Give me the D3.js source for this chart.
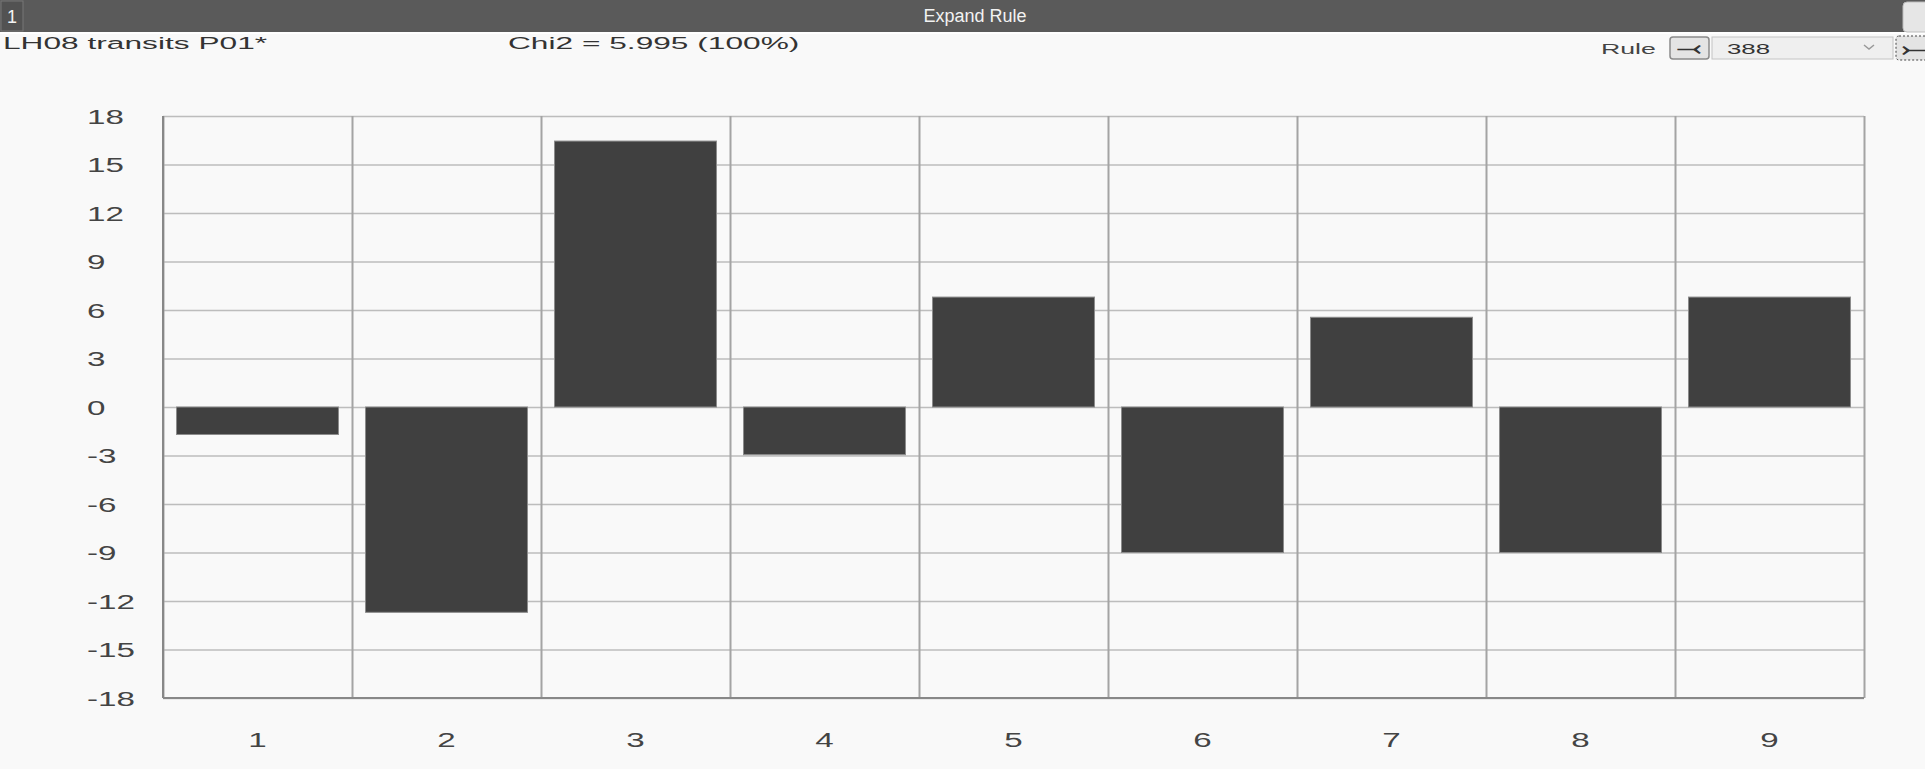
<!DOCTYPE html>
<html>
<head>
<meta charset="utf-8">
<script src="https://cdn.jsdelivr.net/npm/d3@7"></script>
<style>
  html, body { margin: 0; padding: 0; background: #f9f9f9; overflow: hidden; }
  svg { display: block; }
</style>
</head>
<body>
<svg id="chart"></svg>
<script>
// data
const categories = ["1", "2", "3", "4", "5", "6", "7", "8", "9"];
const values = [-1.7, -12.7, 16.45, -2.95, 6.8, -9.0, 5.55, -9.0, 6.8];
const yTicks = [-18, -15, -12, -9, -6, -3, 0, 3, 6, 9, 12, 15, 18];

const titleText = "LH08 transits P01*";
const chiText = "Chi2 = 5.995 (100%)";
const ruleNumber = "388";

const W = 1925, H = 769;
const plot = { left: 163, right: 1864, top: 116, bottom: 698 };
const stretch = 1.97;   // the chart text is drawn horizontally stretched
const tickStretch = 1.7;

const svg = d3.select("#chart").attr("width", W).attr("height", H);

svg.append("rect").attr("width", W).attr("height", H).attr("fill", "#f9f9f9");

// ---------------- header bar ----------------
svg.append("rect").attr("x", 0).attr("y", 0).attr("width", W).attr("height", 32)
    .attr("fill", "#5a5a5a");
svg.append("rect").attr("x", 0).attr("y", 32).attr("width", W).attr("height", 2)
    .attr("fill", "#ffffff");
svg.append("rect").attr("x", 1).attr("y", 1).attr("width", 22).attr("height", 30)
    .attr("fill", "#525252").attr("stroke", "#777");
svg.append("text").attr("x", 12).attr("y", 23).attr("text-anchor", "middle")
    .attr("font-family", "Liberation Sans, Arial, sans-serif").attr("font-size", 18)
    .attr("fill", "#f2f2f2").text("1");
svg.append("text").attr("x", 975).attr("y", 22).attr("text-anchor", "middle")
    .attr("font-family", "Liberation Sans, Arial, sans-serif").attr("font-size", 18)
    .attr("fill", "#f2f2f2").text("Expand Rule");
svg.append("rect").attr("x", 1903).attr("y", 2).attr("width", 30).attr("height", 30).attr("rx", 4)
    .attr("fill", "#e6e6e6").attr("stroke", "#bdbdbd");

// ---------------- title line ----------------
function stretchedText(x, y, txt, size, sx, color) {
    return svg.append("text")
        .attr("transform", `translate(${x},${y}) scale(${sx},1)`)
        .attr("font-family", "Liberation Sans, Arial, sans-serif")
        .attr("font-size", size)
        .attr("fill", color)
        .text(txt);
}
stretchedText(3, 49, titleText, 16.5, 1.92, "#333");
stretchedText(508, 49, chiText, 16.5, 1.92, "#333");

// rule selector
stretchedText(1601, 54, "Rule", 15, 1.78, "#444");
svg.append("rect").attr("x", 1670).attr("y", 37).attr("width", 39).attr("height", 22).attr("rx", 3)
    .attr("fill", "#e4e4e4").attr("stroke", "#8a8a8a").attr("stroke-width", 1.5);
svg.append("text").attr("transform", "translate(1689,55) scale(1.5,1)").attr("text-anchor", "middle")
    .attr("font-family", "DejaVu Sans, sans-serif").attr("font-size", 20).attr("font-weight", "bold")
    .attr("fill", "#333").text("⤙");
svg.append("rect").attr("x", 1712).attr("y", 37).attr("width", 181).attr("height", 22)
    .attr("fill", "#efefef").attr("stroke", "#c4c4c4");
stretchedText(1727, 54, ruleNumber, 15, 1.72, "#333");
svg.append("path").attr("d", "M1864,45 L1869,49 L1874,45").attr("fill", "none")
    .attr("stroke", "#999").attr("stroke-width", 1.5);
svg.append("rect").attr("x", 1896).attr("y", 36).attr("width", 40).attr("height", 24).attr("rx", 3)
    .attr("fill", "#e4e4e4").attr("stroke", "#444").attr("stroke-dasharray", "2,2");
svg.append("text").attr("transform", "translate(1914,55) scale(1.5,1)").attr("text-anchor", "middle")
    .attr("font-family", "DejaVu Sans, sans-serif").attr("font-size", 20).attr("font-weight", "bold")
    .attr("fill", "#333").text("⤚");

// ---------------- scales ----------------
const x = d3.scaleBand().domain(categories).range([plot.left, plot.right]);
const xBar = d3.scaleBand().domain(categories).range([plot.left, plot.right])
    .paddingInner(0.143).paddingOuter(0.0715);
const y = d3.scaleLinear().domain([-18, 18]).range([plot.bottom, plot.top]);

// horizontal grid + y labels
const yAxis = svg.append("g")
    .attr("transform", `translate(${plot.left},0)`)
    .call(d3.axisLeft(y).tickValues(yTicks).tickFormat(d => String(d))
        .tickSize(-(plot.right - plot.left)).tickPadding(0));
yAxis.select(".domain").remove();
yAxis.selectAll(".tick line").attr("stroke", "#bdbdbd").attr("stroke-width", 1.5);
yAxis.selectAll(".tick text")
    .attr("text-anchor", "start")
    .attr("x", -76 / tickStretch)
    .attr("dy", "0.36em")
    .attr("transform", `scale(${tickStretch},1)`)
    .attr("font-family", "Liberation Sans, Arial, sans-serif")
    .attr("font-size", 19.5)
    .attr("fill", "#444");

// vertical separators between categories
const xSep = d3.scaleLinear().domain([0, categories.length]).range([plot.left, plot.right]);
const sepAxis = svg.append("g")
    .attr("transform", `translate(0,${plot.bottom})`)
    .call(d3.axisBottom(xSep).tickValues(d3.range(0, categories.length + 1))
        .tickSize(-(plot.bottom - plot.top)).tickFormat(""));
sepAxis.select(".domain").remove();
sepAxis.selectAll(".tick line").attr("stroke", "#a4a4a4").attr("stroke-width", 2);

// bars
svg.append("g").selectAll("rect")
    .data(values)
    .join("rect")
    .attr("x", (d, i) => xBar(categories[i]))
    .attr("width", xBar.bandwidth())
    .attr("y", d => y(Math.max(0, d)))
    .attr("height", d => Math.abs(y(d) - y(0)))
    .attr("fill", "#404040")
    .attr("stroke", "#8c8c8c")
    .attr("stroke-width", 1);

// left and bottom frame
svg.append("line").attr("x1", plot.left).attr("x2", plot.left)
    .attr("y1", plot.top).attr("y2", plot.bottom)
    .attr("stroke", "#888").attr("stroke-width", 2);
svg.append("line").attr("x1", plot.left).attr("x2", plot.right)
    .attr("y1", plot.bottom).attr("y2", plot.bottom)
    .attr("stroke", "#888").attr("stroke-width", 2);

// x labels
const xAxis = svg.append("g")
    .attr("transform", `translate(0,${plot.bottom})`)
    .call(d3.axisBottom(x).tickSize(0).tickPadding(0));
xAxis.select(".domain").remove();
xAxis.selectAll(".tick text")
    .attr("y", 42)
    .attr("dy", "0.36em")
    .attr("transform", `scale(${tickStretch},1)`)
    .attr("font-family", "Liberation Sans, Arial, sans-serif")
    .attr("font-size", 19.5)
    .attr("fill", "#444");
</script>
</body>
</html>
